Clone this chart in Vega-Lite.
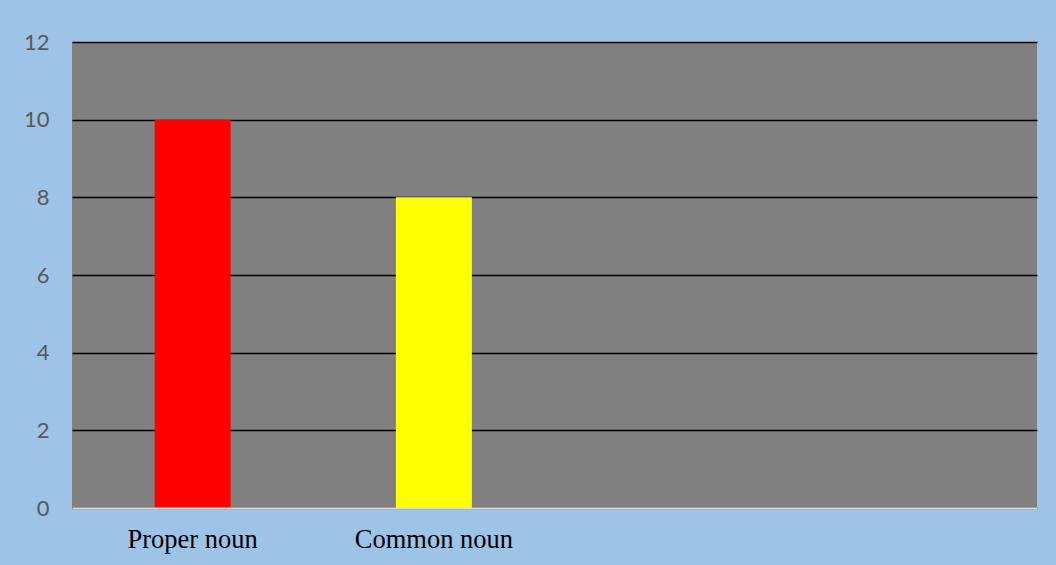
{
  "$schema": "https://vega.github.io/schema/vega-lite/v6.json",
  "autosize": {"type": "none"},
  "width": 965,
  "height": 466,
  "padding": {"left": 72, "top": 42, "right": 19, "bottom": 57},
  "background": "#9DC3E6",
  "config": {
    "view": {"fill": "#808080", "stroke": null}
  },
  "data": {
    "values": [
      {"category": "Proper noun", "value": 10, "color": "#FF0000"},
      {"category": "Common noun", "value": 8, "color": "#FFFF00"}
    ]
  },
  "mark": {"type": "bar"},
  "encoding": {
    "x": {
      "field": "category",
      "type": "nominal",
      "sort": null,
      "scale": {"domain": ["Proper noun", "Common noun", " ", "  "], "paddingInner": 0.685, "paddingOuter": 0.3425},
      "axis": {
        "title": null,
        "labelAngle": 0,
        "labelFont": "Liberation Serif",
        "labelFontSize": 26.5,
        "labelColor": "#000000",
        "labelPadding": 18,
        "ticks": false,
        "tickSize": 0,
        "domain": true,
        "domainColor": "#D9D9D9",
        "domainWidth": 2,
        "grid": false,
        "zindex": 1
      }
    },
    "y": {
      "field": "value",
      "type": "quantitative",
      "scale": {"domain": [0, 12], "nice": false},
      "axis": {
        "title": null,
        "values": [0, 2, 4, 6, 8, 10, 12],
        "domain": false,
        "ticks": false,
        "tickSize": 0,
        "labelFont": "Lato",
        "labelFontSize": 22,
        "labelColor": "#595959",
        "labelPadding": 23,
        "grid": true,
        "gridColor": "#000000",
        "gridWidth": 1.5,
        "gridOpacity": 1
      }
    },
    "color": {"field": "color", "type": "nominal", "scale": null, "legend": null}
  }
}
